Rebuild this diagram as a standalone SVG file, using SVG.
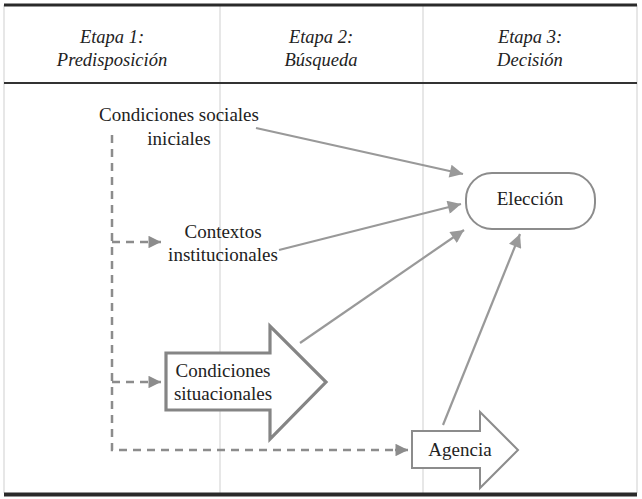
<svg xmlns="http://www.w3.org/2000/svg" width="642" height="499" viewBox="0 0 642 499">
<defs>
<style>
.hdr{font-family:"Liberation Serif","Times New Roman",serif;font-style:italic;font-size:18.5px;fill:#222;text-anchor:middle}
.lbl{font-family:"Liberation Serif","Times New Roman",serif;font-size:19px;fill:#222;text-anchor:middle}
.grid{stroke:#cfcfcf;stroke-width:1;fill:none}
.conn{stroke:#999;stroke-width:2.2;fill:none}
.dash{stroke:#8c8c8c;stroke-width:2.5;fill:none;stroke-dasharray:8 6}
</style>
<marker id="ah" viewBox="0 0 10 10" refX="10" refY="5" markerWidth="7" markerHeight="6" markerUnits="strokeWidth" orient="auto">
<path d="M0,0 L10,5 L0,10 z" fill="#999"/>
</marker>
<marker id="ahd" viewBox="0 0 10 10" refX="10" refY="5" markerWidth="6" markerHeight="5" markerUnits="strokeWidth" orient="auto">
<path d="M0,0 L10,5 L0,10 z" fill="#8c8c8c"/>
</marker>
</defs>
<rect x="0" y="0" width="642" height="499" fill="#fff"/>
<g id="table">
<line class="grid" x1="4" y1="5" x2="4" y2="493"/>
<line class="grid" x1="220" y1="5" x2="220" y2="493"/>
<line class="grid" x1="423" y1="5" x2="423" y2="493"/>
<line class="grid" x1="637" y1="5" x2="637" y2="493"/>
<line x1="4" y1="5" x2="637" y2="5" stroke="#2a2a2a" stroke-width="3"/>
<line x1="4" y1="83" x2="637" y2="83" stroke="#333" stroke-width="1.8"/>
<line x1="4" y1="494.5" x2="637" y2="494.5" stroke="#2a2a2a" stroke-width="4"/>
<text class="hdr" x="112" y="43">Etapa 1:</text>
<text class="hdr" x="112" y="66">Predisposición</text>
<text class="hdr" x="321" y="43">Etapa 2:</text>
<text class="hdr" x="321" y="66">Búsqueda</text>
<text class="hdr" x="530" y="43">Etapa 3:</text>
<text class="hdr" x="530" y="66">Decisión</text>
</g>
<g id="connectors">
<line class="conn" x1="256" y1="128" x2="463" y2="174" marker-end="url(#ah)"/>
<line class="conn" x1="279" y1="250" x2="461" y2="204" marker-end="url(#ah)"/>
<line class="conn" x1="300" y1="343" x2="464" y2="230" marker-end="url(#ah)"/>
<line class="conn" x1="443" y1="425" x2="520" y2="234" marker-end="url(#ah)"/>
<path class="dash" d="M112,135 V450 H406" />
<line class="dash" x1="112" y1="242" x2="161" y2="242" marker-end="url(#ahd)"/>
<line class="dash" x1="112" y1="382" x2="161" y2="382" marker-end="url(#ahd)"/>
<line x1="395" y1="450" x2="408" y2="450" stroke="#8c8c8c" stroke-width="2.5" marker-end="url(#ahd)"/>
</g>
<g id="condiciones-sociales">
<text class="lbl" x="179" y="121">Condiciones sociales</text>
<text class="lbl" x="179" y="145">iniciales</text>
</g>
<g id="contextos">
<text class="lbl" x="223" y="238">Contextos</text>
<text class="lbl" x="223" y="261">institucionales</text>
</g>
<g id="condiciones-situacionales">
<path d="M166,353 H270 V326 L326,382 L270,439 V410 H166 Z" fill="#fff" stroke="#858585" stroke-width="3.2" stroke-linejoin="miter"/>
<text class="lbl" x="223" y="377">Condiciones</text>
<text class="lbl" x="223" y="400">situacionales</text>
</g>
<g id="eleccion">
<rect x="466" y="173" width="129" height="56" rx="26" ry="26" fill="#fff" stroke="#8c8c8c" stroke-width="2"/>
<text class="lbl" x="530" y="205">Elección</text>
</g>
<g id="agencia">
<path d="M412,431 H480 V412 L518,450 L480,488 V468 H412 Z" fill="#fff" stroke="#8c8c8c" stroke-width="2"/>
<text class="lbl" x="460" y="456">Agencia</text>
</g>
</svg>
